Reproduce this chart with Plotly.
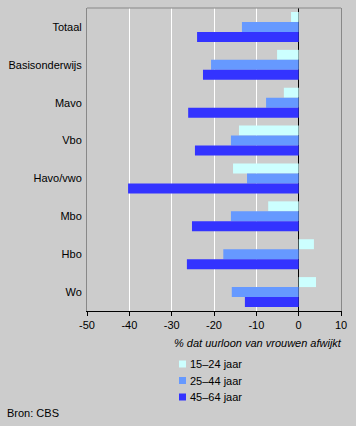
import plotly.graph_objects as go

categories = ["Totaal", "Basisonderwijs", "Mavo", "Vbo", "Havo/vwo", "Mbo", "Hbo", "Wo"]
series_names = ["15\u201324 jaar", "25\u201344 jaar", "45\u201364 jaar"]
v_15_24 = [-1.8, -5.1, -3.5, -14.1, -15.5, -7.2, 3.6, 4.1]
v_25_44 = [-13.4, -20.7, -7.7, -16.0, -12.2, -16.0, -17.8, -15.8]
v_45_64 = [-24.0, -22.6, -26.1, -24.5, -40.3, -25.2, -26.4, -12.7]
x_ticks = [-50, -40, -30, -20, -10, 0, 10]

colors = ["#CCFFFF", "#6699FF", "#3333FF"]
FONT = "Liberation Sans, Arial, sans-serif"

fig = go.Figure()
for name, vals, col in zip(series_names, [v_15_24, v_25_44, v_45_64], colors):
    fig.add_trace(go.Bar(y=categories, x=vals, name=name, orientation="h",
                         marker=dict(color=col, line=dict(width=0)), showlegend=False))

fig.update_layout(
    width=356, height=426,
    margin=dict(l=87, r=15, t=8, b=115),
    paper_bgcolor="#CCCCCC", plot_bgcolor="#CCCCCC",
    barmode="group", bargap=0.21, bargroupgap=0,
    font=dict(family=FONT, size=11, color="#000000"),
    xaxis=dict(range=[-50, 10], tickvals=x_ticks, ticktext=[str(v) for v in x_ticks],
               showgrid=True, gridcolor="#FFFFFF", gridwidth=1,
               zeroline=True, zerolinecolor="#000000", zerolinewidth=1,
               showline=True, linecolor="#000000", linewidth=1,
               ticks="outside", ticklen=4, tickcolor="#000000", tickwidth=1,
               tickfont=dict(size=11), fixedrange=True),
    yaxis=dict(categoryorder="array", categoryarray=categories, autorange="reversed",
               showgrid=False, zeroline=False,
               showline=True, linecolor="#888888", linewidth=1, mirror=True,
               ticks="outside", ticklen=2, tickcolor="rgba(0,0,0,0)",
               tickfont=dict(size=11), fixedrange=True),
)

# top border of frame
fig.add_shape(type="line", xref="paper", yref="paper", x0=0, x1=1, y0=1, y1=1,
              line=dict(color="#888888", width=1))

plot_w = 356 - 87 - 15
plot_h = 426 - 115 - 8

# axis title
fig.add_annotation(text="<i>% dat uurloon van vrouwen afwijkt</i>", xref="paper", yref="paper",
                   x=(344 - 87) / plot_w, y=(426 - 115 - 343) / plot_h,
                   xanchor="right", yanchor="middle", showarrow=False,
                   font=dict(size=11))

# manual legend
leg_y = [364, 380.5, 397]
for name, col, yy in zip(series_names, colors, leg_y):
    y_paper = (426 - 115 - yy) / plot_h
    fig.add_shape(type="rect", xref="paper", yref="paper",
                  x0=(179 - 87) / plot_w, x1=(186 - 87) / plot_w,
                  y0=y_paper - 3.5 / plot_h, y1=y_paper + 3.5 / plot_h,
                  fillcolor=col, line=dict(width=0))
    fig.add_annotation(text=name, xref="paper", yref="paper",
                       x=(188 - 87) / plot_w, y=y_paper, xanchor="left", yanchor="middle",
                       showarrow=False, font=dict(size=11))

fig.add_annotation(text="Bron: CBS", xref="paper", yref="paper",
                   x=(5 - 87) / plot_w, y=(426 - 115 - 413) / plot_h,
                   xanchor="left", yanchor="middle", showarrow=False, font=dict(size=11))

fig.write_html("out.html", config={"displayModeBar": False},
               post_script="document.body.style.margin='0';document.body.style.overflow='hidden';")
